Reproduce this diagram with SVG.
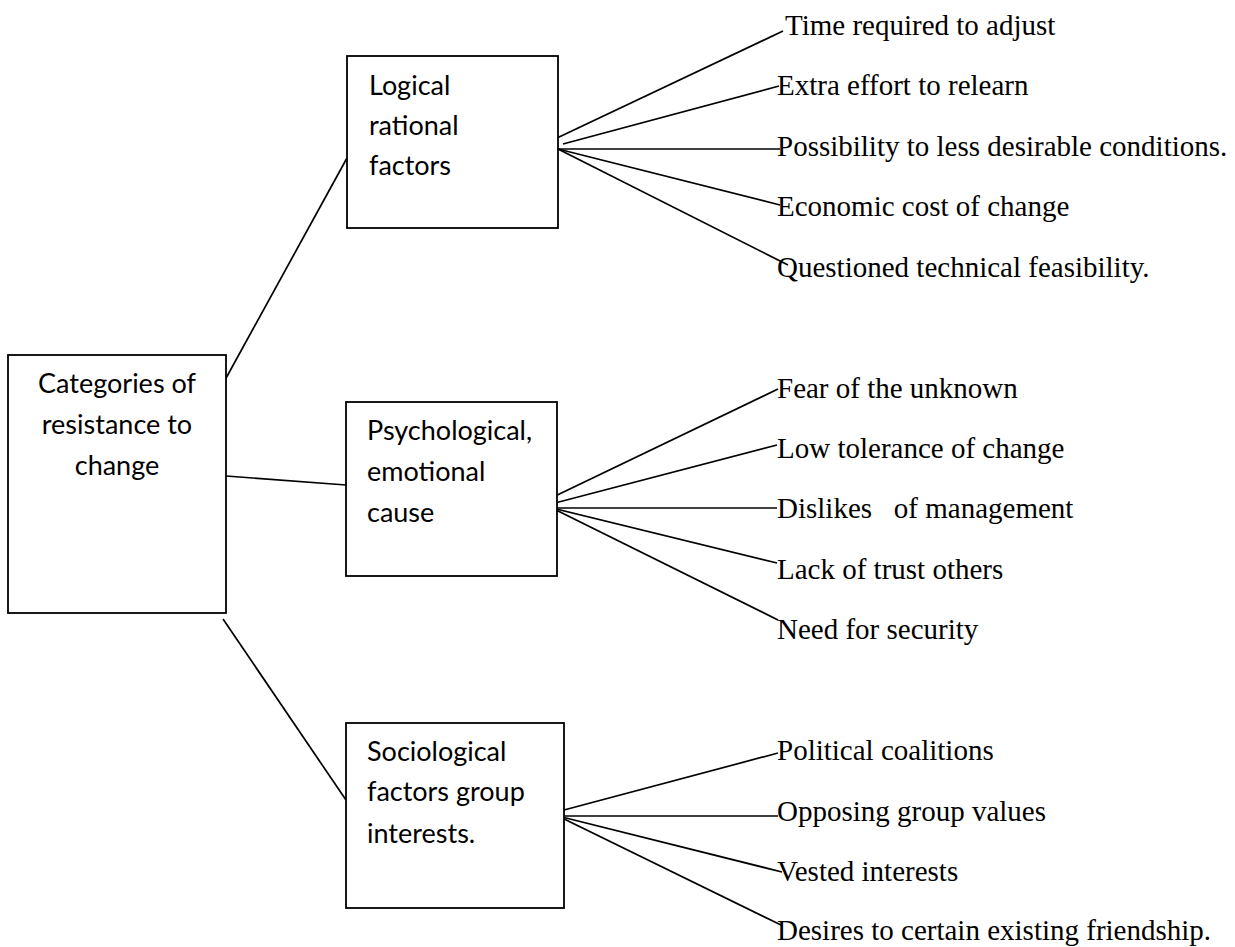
<svg xmlns="http://www.w3.org/2000/svg" width="1235" height="947" viewBox="0 0 1235 947">
  <style>
    .box { fill: #ffffff; stroke: #000000; stroke-width: 1.8; }
    .link { stroke: #000000; stroke-width: 1.7; fill: none; }
    .head { font-family: Lato, "Open Sans", sans-serif; font-size: 27px; fill: #000000; }
    .mid { text-anchor: middle; }
    .item { font-family: "Liberation Serif", "Times New Roman", serif; font-size: 29px; fill: #000000; }
  </style>
  <rect width="1235" height="947" fill="#ffffff"/>

  <!-- connectors -->
  <g id="connectors">
    <!-- root to categories -->
    <line class="link" x1="225" y1="380" x2="347" y2="158"/>
    <line class="link" x1="226" y1="476" x2="346" y2="485"/>
    <line class="link" x1="223" y1="619" x2="346" y2="800"/>
    <!-- logical rational factors -->
    <line class="link" x1="557" y1="138" x2="783" y2="31"/>
    <line class="link" x1="563" y1="144" x2="779" y2="86"/>
    <line class="link" x1="558" y1="149" x2="780" y2="149"/>
    <line class="link" x1="558" y1="149" x2="780" y2="205"/>
    <line class="link" x1="558" y1="149" x2="788" y2="265"/>
    <!-- psychological, emotional cause -->
    <line class="link" x1="549" y1="499" x2="778" y2="389"/>
    <line class="link" x1="555" y1="503" x2="777" y2="445"/>
    <line class="link" x1="552" y1="508" x2="777" y2="508"/>
    <line class="link" x1="552" y1="508" x2="777" y2="563"/>
    <line class="link" x1="552" y1="508" x2="778" y2="620"/>
    <!-- sociological factors -->
    <line class="link" x1="564" y1="810" x2="778" y2="753"/>
    <line class="link" x1="558" y1="816" x2="778" y2="816"/>
    <line class="link" x1="558" y1="816" x2="782" y2="872"/>
    <line class="link" x1="558" y1="816" x2="781" y2="925"/>
  </g>

  <g id="root">
    <rect class="box" x="8" y="355" width="218" height="258"/>
    <text class="head mid" x="117" y="393">Categories of</text>
    <text class="head mid" x="117" y="434">resistance to</text>
    <text class="head mid" x="117" y="475">change</text>
  </g>

  <g id="logical">
    <rect class="box" x="347" y="56" width="211" height="172"/>
    <text class="head" x="369" y="95">Logical</text>
    <text class="head" x="369" y="135">rational</text>
    <text class="head" x="369" y="175">factors</text>
  </g>

  <g id="psychological">
    <rect class="box" x="346" y="402" width="211" height="174"/>
    <text class="head" x="367" y="440">Psychological,</text>
    <text class="head" x="367" y="481">emotional</text>
    <text class="head" x="367" y="522">cause</text>
  </g>

  <g id="sociological">
    <rect class="box" x="346" y="723" width="218" height="185"/>
    <text class="head" x="367" y="761">Sociological</text>
    <text class="head" x="367" y="801">factors group</text>
    <text class="head" x="367" y="843">interests.</text>
  </g>

  <g id="logical-items">
    <text class="item" x="785" y="35">Time required to adjust</text>
    <text class="item" x="777" y="95">Extra effort to relearn</text>
    <text class="item" x="777" y="156">Possibility to less desirable conditions.</text>
    <text class="item" x="777" y="216">Economic cost of change</text>
    <text class="item" x="777" y="277">Questioned technical feasibility.</text>
  </g>

  <g id="psychological-items">
    <text class="item" x="777" y="398">Fear of the unknown</text>
    <text class="item" x="777" y="458">Low tolerance of change</text>
    <text class="item" x="777" y="518" xml:space="preserve">Dislikes   of management</text>
    <text class="item" x="777" y="579">Lack of trust others</text>
    <text class="item" x="777" y="639">Need for security</text>
  </g>

  <g id="sociological-items">
    <text class="item" x="777" y="760">Political coalitions</text>
    <text class="item" x="777" y="821">Opposing group values</text>
    <text class="item" x="777" y="881">Vested interests</text>
    <text class="item" x="777" y="940">Desires to certain existing friendship.</text>
  </g>
</svg>
